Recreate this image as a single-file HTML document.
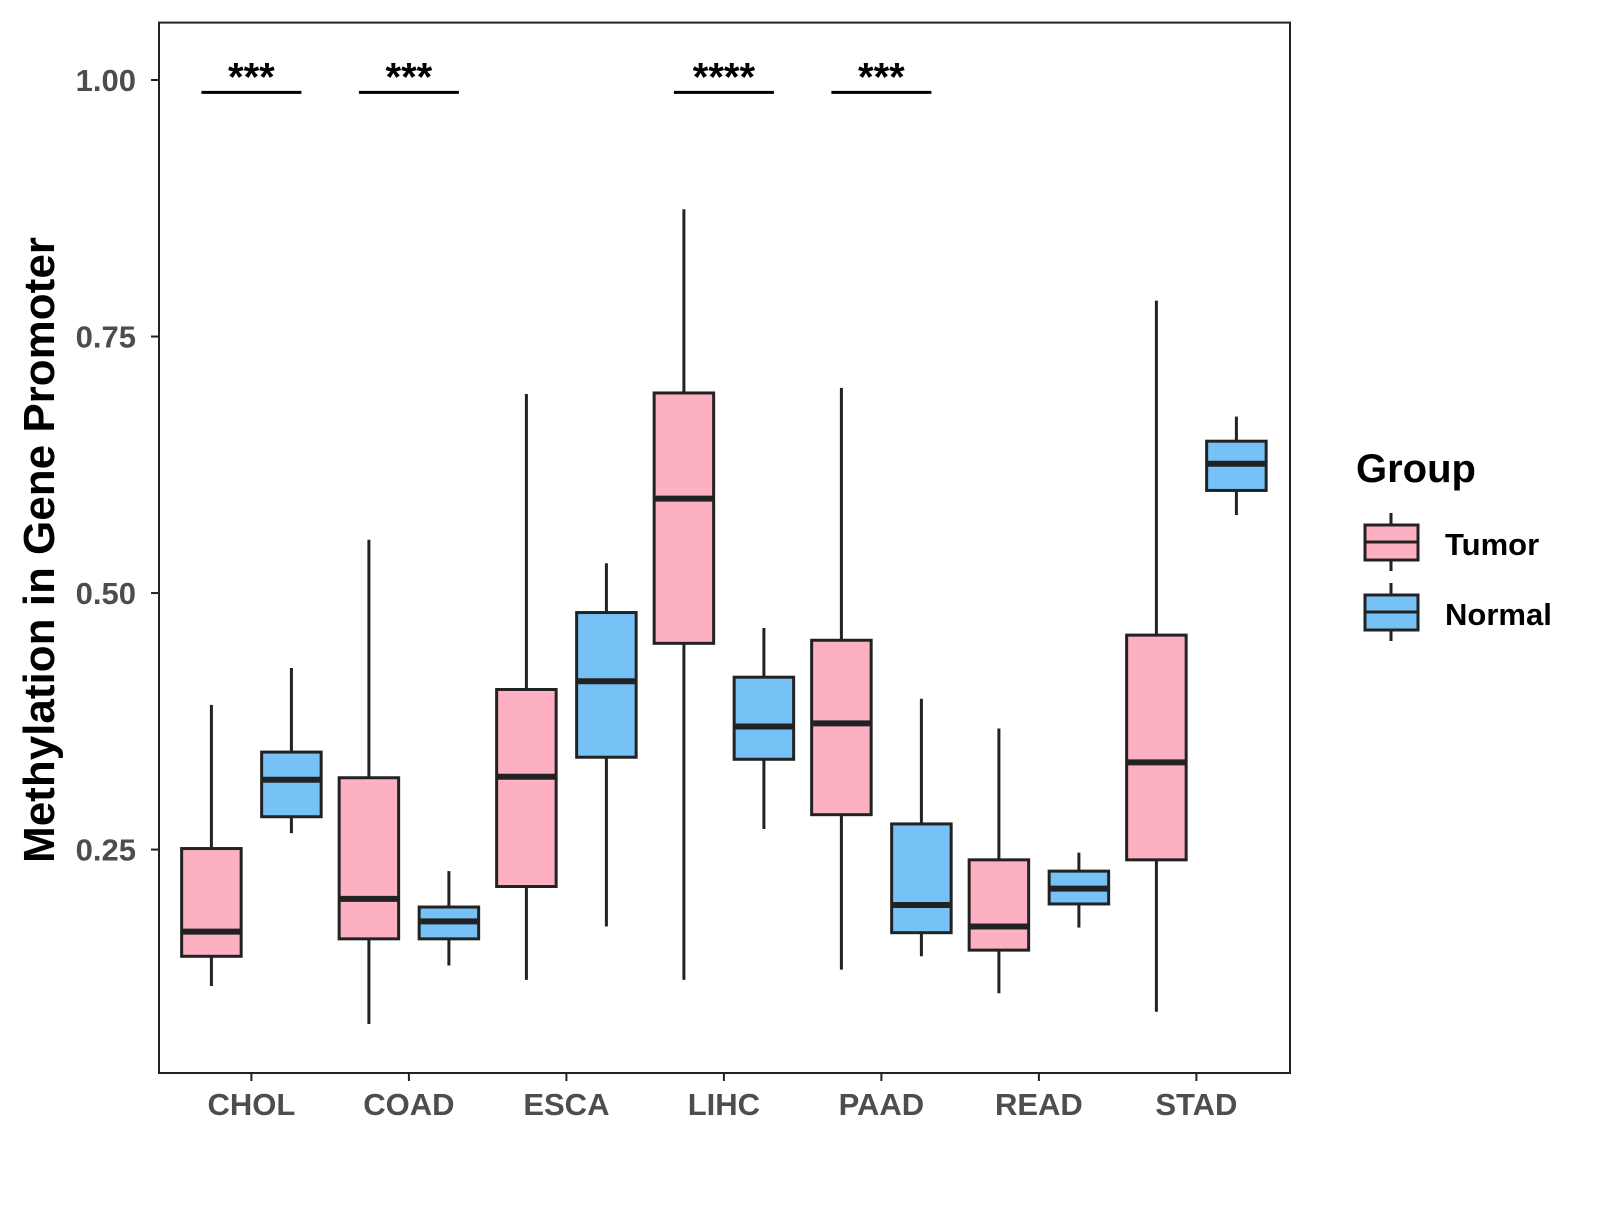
<!DOCTYPE html>
<html><head><meta charset="utf-8"><style>
html,body{margin:0;padding:0;background:#fff}
svg text{font-family:"Liberation Sans",Arial,sans-serif;font-weight:bold}
</style></head><body>
<svg id="chart" width="1600" height="1200" xmlns="http://www.w3.org/2000/svg">
<rect x="159" y="22.6" width="1131" height="1050.4" fill="#fff" stroke="#222" stroke-width="2"/>
<g id="marks"></g>
<text transform="translate(54,550) rotate(-90)" text-anchor="middle" font-size="44" fill="#000">Methylation in Gene Promoter</text>
<g transform="translate(-8,0)">
<text x="1364" y="482" font-size="40" fill="#000">Group</text>
<g>
<line x1="1399" y1="513" x2="1399" y2="571" stroke="#222" stroke-width="3"/>
<rect x="1373" y="525" width="53" height="35" fill="#FDB0C1" stroke="#222" stroke-width="3"/>
<line x1="1373" y1="542" x2="1426" y2="542" stroke="#222" stroke-width="3"/>
<text x="1453" y="555" font-size="31" fill="#000">Tumor</text>
</g>
<g>
<line x1="1399" y1="583" x2="1399" y2="641" stroke="#222" stroke-width="3"/>
<rect x="1373" y="595" width="53" height="35" fill="#76C2F7" stroke="#222" stroke-width="3"/>
<line x1="1373" y1="612" x2="1426" y2="612" stroke="#222" stroke-width="3"/>
<text x="1453" y="625" font-size="31" fill="#000">Normal</text>
</g>
</g>
</svg>
<script>
const categories=["CHOL","COAD","ESCA","LIHC","PAAD","READ","STAD"];
// [low, q1, median, q3, high]
const tumor=[[0.117,0.146,0.170,0.251,0.391],[0.080,0.163,0.202,0.320,0.552],[0.123,0.214,0.321,0.406,0.694],[0.123,0.451,0.592,0.695,0.874],[0.133,0.284,0.373,0.454,0.700],[0.110,0.152,0.175,0.240,0.368],[0.092,0.240,0.335,0.459,0.785]];
const normal=[[0.266,0.282,0.318,0.345,0.427],[0.137,0.163,0.180,0.194,0.229],[0.175,0.340,0.414,0.481,0.529],[0.270,0.338,0.370,0.418,0.466],[0.146,0.169,0.196,0.275,0.397],[0.174,0.197,0.212,0.229,0.247],[0.576,0.600,0.626,0.648,0.672]];
const yTicks=[0.25,0.50,0.75,1.00];
const yTickLabels=["0.25","0.50","0.75","1.00"];
const sigCats=["CHOL","COAD","LIHC","PAAD"];
const sigLabels=["***","***","****","***"];
const sigLevel=0.988;

const NS="http://www.w3.org/2000/svg";
const g=document.getElementById("marks");
function y(v){return 80+(1-v)*1026.1;}
function x(i){return 251.4+i*157.5;}
function el(t,a,p){const e=document.createElementNS(NS,t);for(const k in a)e.setAttribute(k,a[k]);(p||g).appendChild(e);return e;}

yTicks.forEach((v,i)=>{
  const t=el("line",{x1:151,x2:159,y1:y(v),y2:y(v),stroke:"#222","stroke-width":2});
  
  
  const l=el("text",{x:136,y:y(v)+11,"text-anchor":"end","font-size":31,fill:"#4d4d4d"});
  l.textContent=yTickLabels[i];
  
  
});
categories.forEach((c,i)=>{
  const t=el("line",{x1:x(i),x2:x(i),y1:1073,y2:1081,stroke:"#222","stroke-width":2});
  
  
  const l=el("text",{x:x(i),y:1115,"text-anchor":"middle","font-size":31,fill:"#4d4d4d"});
  l.textContent=c;
  
  
});
function box(i,d,off,fill,name){
  const cx=x(i)+off,w=59.5;
  const grp=el("g",{});
  
  
  el("line",{x1:cx,x2:cx,y1:y(d[4]),y2:y(d[3]),stroke:"#222","stroke-width":3},grp);
  el("line",{x1:cx,x2:cx,y1:y(d[1]),y2:y(d[0]),stroke:"#222","stroke-width":3},grp);
  el("rect",{x:cx-w/2,y:y(d[3]),width:w,height:y(d[1])-y(d[3]),fill:fill,stroke:"#222","stroke-width":3},grp);
  el("line",{x1:cx-w/2,x2:cx+w/2,y1:y(d[2]),y2:y(d[2]),stroke:"#222","stroke-width":6},grp);
}
categories.forEach((c,i)=>{
  box(i,tumor[i],-40,"#FDB0C1","box-tumor-"+c.toLowerCase());
  box(i,normal[i],40,"#76C2F7","box-normal-"+c.toLowerCase());
});
sigCats.forEach((c,k)=>{
  const i=categories.indexOf(c);
  const b=el("line",{x1:x(i)-50,x2:x(i)+50,y1:y(sigLevel),y2:y(sigLevel),stroke:"#000","stroke-width":3});
  
  
  const t=el("text",{x:x(i),y:y(sigLevel)-2,"text-anchor":"middle","font-size":40,fill:"#000"});
  t.textContent=sigLabels[k];
  
  
});
</script>
</body></html>
